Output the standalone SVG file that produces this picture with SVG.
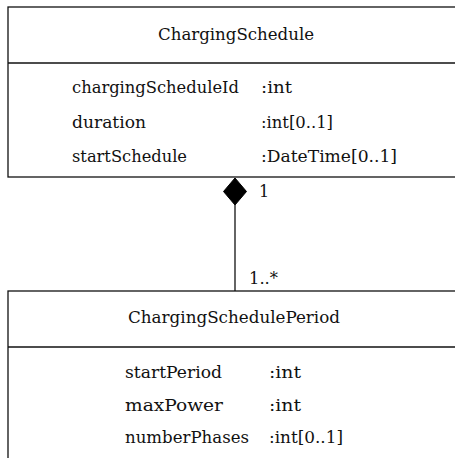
<svg xmlns="http://www.w3.org/2000/svg" width="455" height="458" viewBox="0 0 455 458">
  <style>
    text { font-family: "DejaVu Serif", "Liberation Serif", serif; font-size: 16px; fill: #111; }
    .box { fill: #fff; stroke: #111; stroke-width: 1.3; }
    .ln { stroke: #111; stroke-width: 1.3; fill: none; }
  </style>
  <rect width="455" height="458" fill="#fff"/>
  <g id="ChargingSchedule">
    <rect class="box" x="8" y="7" width="460" height="170"/>
    <line class="ln" x1="8" y1="63" x2="468" y2="63"/>
    <text x="158" y="40" textLength="156" lengthAdjust="spacingAndGlyphs">ChargingSchedule</text>
    <text x="72" y="93" textLength="167" lengthAdjust="spacingAndGlyphs">chargingScheduleId</text>
    <text x="261" y="93" textLength="31" lengthAdjust="spacingAndGlyphs">:int</text>
    <text x="72" y="128" textLength="74" lengthAdjust="spacingAndGlyphs">duration</text>
    <text x="261" y="128" textLength="72" lengthAdjust="spacingAndGlyphs">:int[0..1]</text>
    <text x="72" y="162" textLength="115" lengthAdjust="spacingAndGlyphs">startSchedule</text>
    <text x="261" y="162" textLength="136" lengthAdjust="spacingAndGlyphs">:DateTime[0..1]</text>
  </g>
  <g id="ChargingSchedulePeriod">
    <rect class="box" x="8" y="291" width="460" height="180"/>
    <line class="ln" x1="8" y1="347" x2="468" y2="347"/>
    <text x="128" y="323" textLength="212" lengthAdjust="spacingAndGlyphs">ChargingSchedulePeriod</text>
    <text x="125" y="378" textLength="97" lengthAdjust="spacingAndGlyphs">startPeriod</text>
    <text x="269" y="378" textLength="32" lengthAdjust="spacingAndGlyphs">:int</text>
    <text x="125" y="411" textLength="98" lengthAdjust="spacingAndGlyphs">maxPower</text>
    <text x="269" y="411" textLength="32" lengthAdjust="spacingAndGlyphs">:int</text>
    <text x="125" y="443" textLength="124" lengthAdjust="spacingAndGlyphs">numberPhases</text>
    <text x="269" y="443" textLength="74" lengthAdjust="spacingAndGlyphs">:int[0..1]</text>
  </g>
  <g id="connectors">
    <line class="ln" x1="235" y1="205" x2="235" y2="291"/>
    <polygon points="235,178 246.5,191.5 235,205 223.5,191.5" fill="#000" stroke="#000" stroke-width="1"/>
    <text x="259" y="197">1</text>
    <text x="249" y="284" textLength="29" lengthAdjust="spacingAndGlyphs">1..*</text>
  </g>
</svg>
